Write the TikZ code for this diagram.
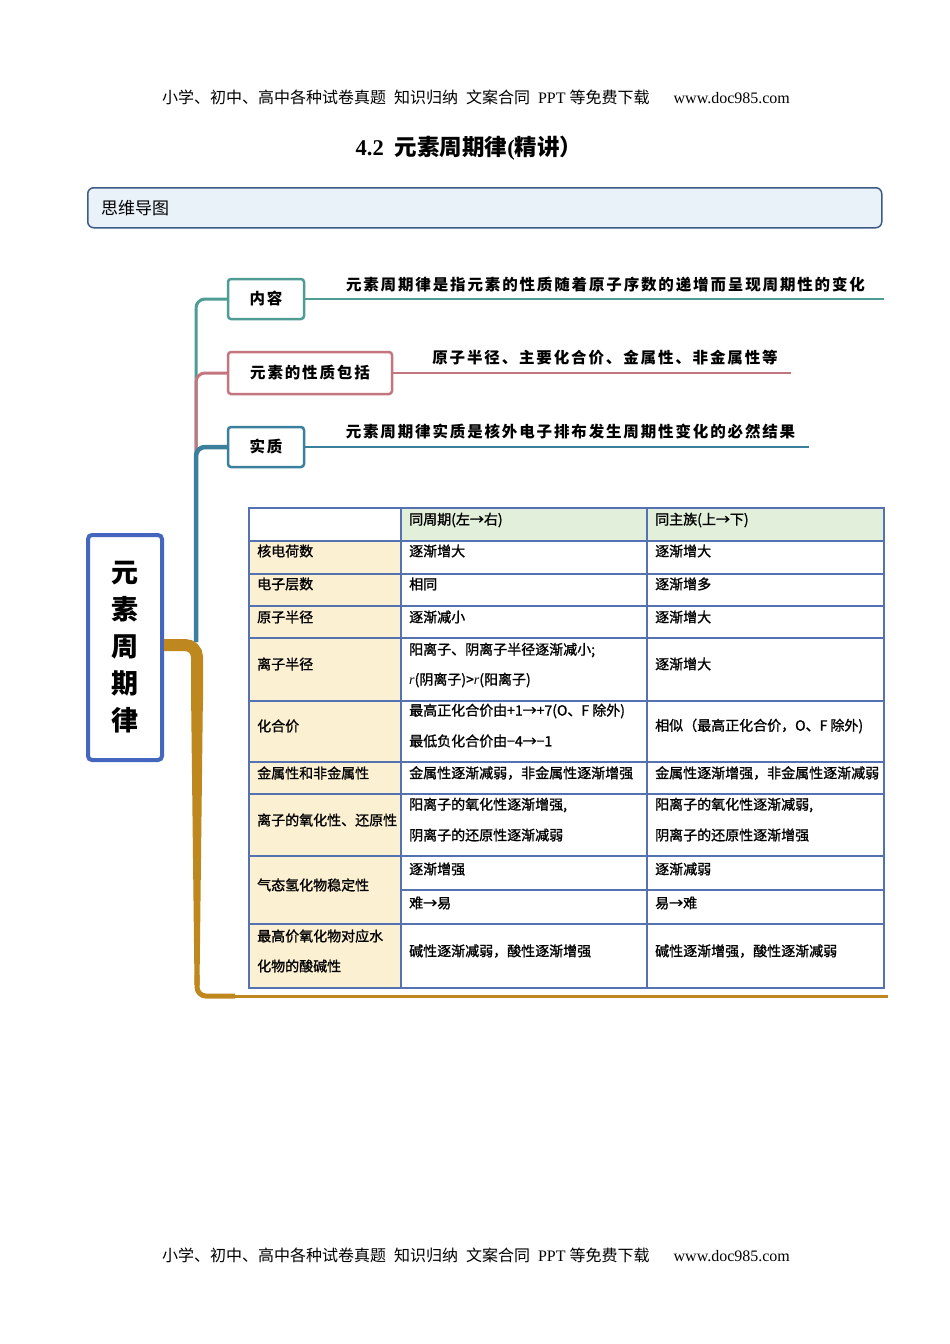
\documentclass[tikz,border=0pt]{standalone}
\usepackage{fontspec}
\setmainfont{Liberation Serif}
\newfontfamily\cjk{Noto Sans CJK SC}
\newfontfamily\cjkt[FakeBold=1.2]{Noto Sans CJK SC}
\newfontfamily\cjkls[LetterSpace=12]{Noto Sans CJK SC}
\definecolor{mteal}{RGB}{78,156,148}
\definecolor{mpink}{RGB}{196,118,128}
\definecolor{mblue}{RGB}{58,128,156}
\definecolor{mgold}{RGB}{190,136,30}
\definecolor{cnblue}{RGB}{68,102,190}
\definecolor{tblue}{RGB}{84,114,178}
\definecolor{hgreen}{RGB}{226,239,218}
\definecolor{cream}{RGB}{252,240,210}
\definecolor{sbfill}{RGB}{233,241,249}
\definecolor{sbdraw}{RGB}{60,92,135}
\newcommand{\hdrline}{{\cjk 小学、初中、高中各种试卷真题}\hspace{8pt}{\cjk 知识归纳}\hspace{8pt}{\cjk 文案合同}\hspace{8pt}PPT\hspace{4pt}{\cjk 等免费下载}\hspace{24pt}www.doc985.com}
\tikzset{
  hdrtext/.style={inner sep=0pt, font=\fontsize{16}{19}\selectfont},
  mmbox/.style={draw=#1, line width=2.5pt, rounded corners=3pt, fill=white, minimum height=40pt, inner sep=0pt, font=\cjkls\bfseries\fontsize{15.5}{18}\selectfont},
  mmtext/.style={inner sep=0pt, font=\cjkls\bfseries\fontsize{15.5}{18}\selectfont},
  branch/.style={draw=#1, line width=3pt, rounded corners=9pt},
  leaf/.style={draw=#1, line width=2.5pt},
  tcell/.style={anchor=west, inner sep=0pt, font=\cjkt\fontsize{14}{16}\selectfont},
  grid/.style={draw=tblue, line width=1.5pt}
}
\begin{document}
\begin{tikzpicture}[x=1pt,y=-1pt]
\useasboundingbox (0,0) rectangle (950,1344);
\fill[white] (0,0) rectangle (950,1344);
% header / footer
\node[hdrtext] (hdr) at (476,97) {\hdrline};
\node[hdrtext] (ftr) at (476,1255) {\hdrline};
% title
\node[inner sep=0pt, font=\bfseries\fontsize{22.5}{26}\selectfont] (title) at (469,148) {4.2\hspace{11pt}{\cjk\bfseries 元素周期律}({\cjk\bfseries 精讲）}};
% section box
\node[draw=sbdraw, fill=sbfill, line width=1.5pt, rounded corners=6pt, minimum width=794pt, minimum height=40pt, anchor=north west, inner sep=0pt] (sec) at (87,187) {};
\node[anchor=west, inner sep=0pt, font=\cjk\fontsize{17}{20}\selectfont] (sectext) at (101,208) {思维导图};
% central node
\node[draw=cnblue, line width=4pt, rounded corners=4pt, fill=white, minimum width=74pt, minimum height=225pt, inner sep=0pt, align=center, font=\cjk\bfseries\fontsize{27}{37}\selectfont] (cn) at (125,647.5) {元\\素\\周\\期\\律};
% branch boxes
\node[mmbox=mteal, minimum width=76pt] (nr) at (266,299) {内容};
\node[mmbox=mpink, minimum width=164pt, minimum height=42pt] (xz) at (310,373) {元素的性质包括};
\node[mmbox=mblue, minimum width=76pt] (sz) at (266,447) {实质};
% trunk
\coordinate (root) at (196,642);
\draw[branch=mteal] (root) -- (196,299) -- (nr.west);
\draw[branch=mpink] (root) -- (196,373) -- (xz.west);
\draw[branch=mblue, line width=4.5pt] (root) -- (196,447) -- (sz.west);
% leaves
\coordinate (nrEnd) at (884,299);
\coordinate (xzEnd) at (791,373);
\coordinate (szEnd) at (809,447);
\draw[leaf=mteal] (nr.east) -- (nrEnd);
\draw[leaf=mpink] (xz.east) -- (xzEnd);
\draw[leaf=mblue] (sz.east) -- (szEnd);
\node[mmtext] (t1) at (605.5,285) {元素周期律是指元素的性质随着原子序数的递增而呈现周期性的变化};
\node[mmtext] (t2) at (605,358) {原子半径、主要化合价、金属性、非金属性等};
\node[mmtext] (t3) at (570.5,432) {元素周期律实质是核外电子排布发生周期性变化的必然结果};
% gold branch
\coordinate (g1) at (197,645);
\coordinate (g2) at (197,700);
\coordinate (gEnd) at (888,996);
\draw[mgold, line width=12pt, rounded corners=12pt] (cn.east |- g1) -- (g1) -- (g2);
\fill[mgold] (191,690) -- (203,690) -- (199.5,985) -- (194.5,985) -- cycle;
\draw[mgold, line width=5pt, rounded corners=9pt] (197,975) -- (197,996) -- (235,996);
\draw[mgold, line width=3pt] (230,996) -- (gEnd);
% table fills
\fill[hgreen] (401,508) rectangle (884,541);
\fill[cream] (249,541) rectangle (401,988);
% table grid
\foreach \yy in {541,574,606,638,701,762,794,856,924} \draw[grid] (249,\yy) -- (884,\yy);
\draw[grid] (401,890) -- (884,890);
\draw[grid] (401,508) -- (401,988);
\draw[grid] (647,508) -- (647,988);
\draw[grid, line width=2pt] (249,508) rectangle (884,988);
% column 1
\node[tcell] (a1) at (257,551) {核电荷数};
\node[tcell] (a2) at (257,584) {电子层数};
\node[tcell] (a3) at (257,617) {原子半径};
\node[tcell] (a4) at (257,664) {离子半径};
\node[tcell] (a5) at (257,726) {化合价};
\node[tcell] (a6) at (257,773) {金属性和非金属性};
\node[tcell] (a7) at (257,820) {离子的氧化性、还原性};
\node[tcell] (a8) at (257,885) {气态氢化物稳定性};
\node[tcell] (a9) at (257,936) {最高价氧化物对应水};
\node[tcell] (a10) at (257,966) {化物的酸碱性};
% column 2
\node[tcell] (b0) at (409,520) {同周期(左→右)};
\node[tcell] (b1) at (409,551) {逐渐增大};
\node[tcell] (b2) at (409,584) {相同};
\node[tcell] (b3) at (409,617) {逐渐减小};
\node[tcell] (b4a) at (409,650) {阳离子、阴离子半径逐渐减小;};
\node[tcell] (b4b) at (409,680) {{\rmfamily\itshape r}(阴离子)>{\rmfamily\itshape r}(阳离子)};
\node[tcell] (b5a) at (409,711) {最高正化合价由+1→+7(O、F 除外)};
\node[tcell] (b5b) at (409,741) {最低负化合价由−4→−1};
\node[tcell] (b6) at (409,773) {金属性逐渐减弱，非金属性逐渐增强};
\node[tcell] (b7a) at (409,805) {阳离子的氧化性逐渐增强,};
\node[tcell] (b7b) at (409,835) {阴离子的还原性逐渐减弱};
\node[tcell] (b8a) at (409,869) {逐渐增强};
\node[tcell] (b8b) at (409,903) {难→易};
\node[tcell] (b9) at (409,951) {碱性逐渐减弱，酸性逐渐增强};
% column 3
\node[tcell] (c0) at (655,520) {同主族(上→下)};
\node[tcell] (c1) at (655,551) {逐渐增大};
\node[tcell] (c2) at (655,584) {逐渐增多};
\node[tcell] (c3) at (655,617) {逐渐增大};
\node[tcell] (c4) at (655,664) {逐渐增大};
\node[tcell] (c5) at (655,726) {相似（最高正化合价，O、F 除外)};
\node[tcell] (c6) at (655,773) {金属性逐渐增强，非金属性逐渐减弱};
\node[tcell] (c7a) at (655,805) {阳离子的氧化性逐渐减弱,};
\node[tcell] (c7b) at (655,835) {阴离子的还原性逐渐增强};
\node[tcell] (c8a) at (655,869) {逐渐减弱};
\node[tcell] (c8b) at (655,903) {易→难};
\node[tcell] (c9) at (655,951) {碱性逐渐增强，酸性逐渐减弱};
\end{tikzpicture}
\end{document}
